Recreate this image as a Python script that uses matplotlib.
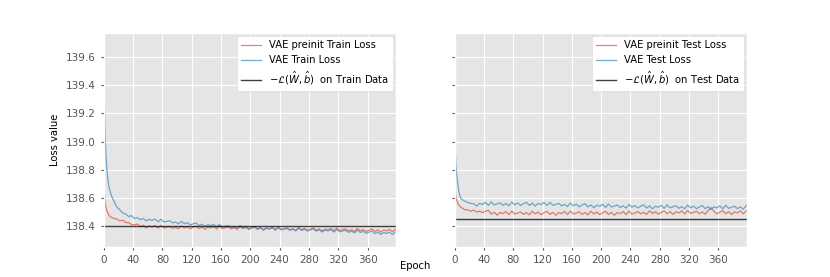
import numpy as np
import matplotlib.pyplot as plt

plt.style.use('ggplot')

# epochs: dense at the start, then every 4th epoch
epochs = list(range(0, 10)) + list(range(10, 400, 4))

train_preinit = [138.90, 138.62, 138.56, 138.53, 138.51, 138.50, 138.49, 138.475, 138.47, 138.465,
    138.462, 138.452, 138.449, 138.436, 138.440, 138.424, 138.423, 138.409, 138.407, 138.413,
    138.394, 138.404, 138.386, 138.399, 138.392, 138.402, 138.384, 138.403, 138.385, 138.390,
    138.395, 138.382, 138.391, 138.379, 138.399, 138.384, 138.394, 138.380, 138.390, 138.397,
    138.380, 138.392, 138.376, 138.391, 138.385, 138.395, 138.378, 138.398, 138.381, 138.387,
    138.392, 138.379, 138.388, 138.376, 138.395, 138.380, 138.390, 138.375, 138.385, 138.392,
    138.375, 138.387, 138.370, 138.385, 138.378, 138.389, 138.372, 138.391, 138.374, 138.380,
    138.385, 138.372, 138.380, 138.368, 138.388, 138.372, 138.382, 138.368, 138.377, 138.385,
    138.368, 138.379, 138.363, 138.378, 138.371, 138.382, 138.365, 138.384, 138.367, 138.373,
    138.378, 138.365, 138.373, 138.361, 138.381, 138.365, 138.375, 138.360, 138.370, 138.378,
    138.361, 138.372, 138.356, 138.371, 138.364, 138.375, 138.358, 138.378]

train_vae = [139.70, 139.25, 139.02, 138.90, 138.82, 138.76, 138.72, 138.68, 138.66, 138.64,
    138.620, 138.574, 138.533, 138.514, 138.491, 138.485, 138.466, 138.473, 138.452, 138.458,
    138.444, 138.453, 138.435, 138.447, 138.439, 138.448, 138.429, 138.447, 138.428, 138.432,
    138.436, 138.421, 138.428, 138.414, 138.432, 138.415, 138.423, 138.407, 138.415, 138.421,
    138.402, 138.412, 138.395, 138.408, 138.401, 138.410, 138.392, 138.410, 138.392, 138.397,
    138.401, 138.387, 138.395, 138.382, 138.401, 138.385, 138.394, 138.379, 138.388, 138.395,
    138.377, 138.388, 138.371, 138.385, 138.378, 138.388, 138.370, 138.389, 138.372, 138.377,
    138.382, 138.369, 138.377, 138.364, 138.384, 138.368, 138.377, 138.363, 138.372, 138.379,
    138.362, 138.373, 138.356, 138.370, 138.364, 138.374, 138.356, 138.375, 138.358, 138.363,
    138.368, 138.354, 138.363, 138.350, 138.369, 138.353, 138.362, 138.347, 138.356, 138.363,
    138.345, 138.356, 138.339, 138.353, 138.346, 138.356, 138.338, 138.357]

test_preinit = [138.75, 138.64, 138.60, 138.58, 138.565, 138.555, 138.55, 138.54, 138.535, 138.53,
    138.528, 138.514, 138.515, 138.503, 138.513, 138.498, 138.505, 138.494, 138.503, 138.511,
    138.484, 138.497, 138.476, 138.495, 138.487, 138.502, 138.480, 138.505, 138.484, 138.491,
    138.499, 138.482, 138.494, 138.478, 138.504, 138.485, 138.498, 138.480, 138.493, 138.503,
    138.481, 138.496, 138.476, 138.495, 138.487, 138.502, 138.480, 138.505, 138.484, 138.491,
    138.499, 138.482, 138.494, 138.478, 138.504, 138.485, 138.498, 138.480, 138.493, 138.503,
    138.481, 138.496, 138.476, 138.495, 138.487, 138.502, 138.480, 138.505, 138.484, 138.491,
    138.502, 138.485, 138.497, 138.481, 138.507, 138.488, 138.501, 138.483, 138.496, 138.506,
    138.486, 138.501, 138.481, 138.500, 138.492, 138.507, 138.485, 138.510, 138.489, 138.496,
    138.504, 138.487, 138.499, 138.483, 138.509, 138.530, 138.503, 138.485, 138.498, 138.508,
    138.486, 138.501, 138.481, 138.500, 138.492, 138.507, 138.485, 138.508]

test_vae = [139.06, 138.92, 138.82, 138.76, 138.71, 138.67, 138.64, 138.62, 138.60, 138.595,
    138.588, 138.576, 138.566, 138.560, 138.557, 138.541, 138.560, 138.552, 138.567, 138.545,
    138.570, 138.549, 138.556, 138.564, 138.547, 138.559, 138.543, 138.569, 138.550, 138.563,
    138.545, 138.558, 138.568, 138.546, 138.561, 138.541, 138.560, 138.552, 138.567, 138.545,
    138.567, 138.546, 138.553, 138.560, 138.542, 138.553, 138.537, 138.562, 138.542, 138.555,
    138.536, 138.548, 138.558, 138.535, 138.549, 138.529, 138.547, 138.539, 138.553, 138.531,
    138.556, 138.534, 138.541, 138.548, 138.531, 138.543, 138.526, 138.552, 138.533, 138.545,
    138.527, 138.540, 138.549, 138.527, 138.542, 138.521, 138.540, 138.532, 138.547, 138.525,
    138.550, 138.528, 138.535, 138.543, 138.525, 138.537, 138.521, 138.547, 138.528, 138.541,
    138.522, 138.535, 138.545, 138.522, 138.537, 138.517, 138.536, 138.528, 138.543, 138.521,
    138.546, 138.525, 138.532, 138.540, 138.523, 138.535, 138.519, 138.545]

# -L(W_hat, b_hat) reference values
ref_train = 138.400
ref_test = 138.447

fs_tick = 7.5
fs = 7.2
fig, (ax1, ax2) = plt.subplots(1, 2, sharey=True, figsize=(8.3, 2.77), dpi=100)

ax1.plot(epochs, train_preinit, color='#E24A33', lw=0.9, alpha=0.7, label='VAE preinit Train Loss')
ax1.plot(epochs, train_vae, color='#348ABD', lw=0.9, alpha=0.7, label='VAE Train Loss')
ax1.axhline(ref_train, color='k', lw=1.0, alpha=0.75,
            label=r'$-\mathcal{L}(\hat{W},\hat{b})$  on Train Data')

ax2.plot(epochs, test_preinit, color='#E24A33', lw=0.9, alpha=0.7, label='VAE preinit Test Loss')
ax2.plot(epochs, test_vae, color='#348ABD', lw=0.9, alpha=0.7, label='VAE Test Loss')
ax2.axhline(ref_test, color='k', lw=1.0, alpha=0.75,
            label=r'$-\mathcal{L}(\hat{W},\hat{b})$  on Test Data')

for ax in (ax1, ax2):
    ax.set_xlim(0, 399)
    ax.set_xticks(np.arange(0, 400, 40))
    ax.tick_params(labelsize=fs_tick, length=2.5)
    leg = ax.legend(loc='upper right', fontsize=fs, facecolor='white', framealpha=1.0,
                    borderaxespad=0.3)
    leg.get_frame().set_edgecolor('#dddddd')

ax1.set_ylim(138.253, 139.77)
ax1.set_yticks([138.4, 138.6, 138.8, 139.0, 139.2, 139.4, 139.6])
ax1.set_ylabel('Loss value', fontsize=fs, color='black')
ax2.tick_params(labelleft=False)
fig.text(0.5, 0.03, 'Epoch', fontsize=fs, ha='center')

plt.savefig('out.png', dpi=100)
